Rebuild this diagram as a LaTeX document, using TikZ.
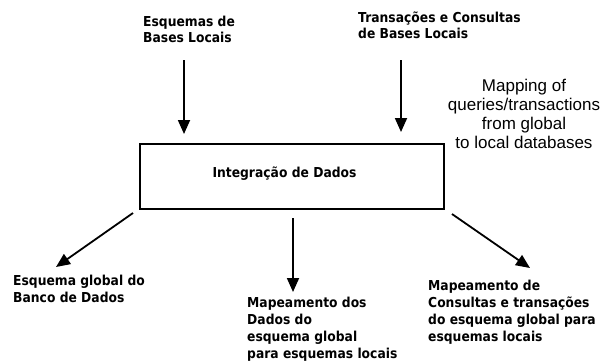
\documentclass[tikz,border=0pt]{standalone}
\usepackage{fontspec}
\usetikzlibrary{arrows.meta}
\newfontfamily\lblfont{DejaVu Sans}[FakeStretch=0.9]
\newfontfamily\engfont{Liberation Sans}
\begin{document}
\begin{tikzpicture}[x=1pt,y=-1pt,
  lbl/.style={inner sep=0pt, align=left, anchor=base west,
    font=\lblfont\bfseries\fontsize{13.7}{16}\selectfont},
  lblb/.style={lbl, font=\lblfont\bfseries\fontsize{13.7}{17}\selectfont},
  arr/.style={line width=1.8pt, -{Triangle[length=14pt,width=12pt]}},
  box/.style={draw, line width=1.4pt, minimum width=304pt, minimum height=65pt, inner sep=0pt}
]
\useasboundingbox (0,0) rectangle (601,360);
% top labels (anchored at the baseline of the last line)
\node[lbl] (t1) at (143,42) {Esquemas de\\Bases Locais};
\node[lbl] (t2) at (358,38) {Transações e Consultas\\de Bases Locais};
\node[inner sep=0pt, align=center, anchor=base,
  font=\engfont\fontsize{17}{18.7}\selectfont] (map) at (524,148)
  {Mapping of\\queries/transactions\\from global\\to local databases};
% central box
\node[box] (box) at (292,176.5) {};
\node[inner sep=0pt, anchor=base, font=\lblfont\bfseries\fontsize{13.7}{16}\selectfont] (boxt) at (284.5,177) {Integração de Dados};
% bottom labels
\node[lblb] (b1) at (13,302) {Esquema global do\\Banco de Dados};
\node[lblb] (b2) at (247,358) {Mapeamento dos\\Dados do\\esquema global\\para esquemas locais};
\node[lblb] (b3) at (428,341) {Mapeamento de\\Consultas e transações\\do esquema global para\\esquemas locais};
% arrow endpoints
\coordinate (a1s) at (184,60);  \coordinate (a1e) at (184,134);
\coordinate (a2s) at (401,60);  \coordinate (a2e) at (401,132);
\coordinate (a3s) at (133,213); \coordinate (a3e) at (56,267);
\coordinate (a4s) at (293,218); \coordinate (a4e) at (293,292);
\coordinate (a5s) at (452,214); \coordinate (a5e) at (530,268);
\draw[arr] (a1s) -- (a1e);
\draw[arr] (a2s) -- (a2e);
\draw[arr] (a3s) -- (a3e);
\draw[arr] (a4s) -- (a4e);
\draw[arr] (a5s) -- (a5e);
\end{tikzpicture}
\end{document}
